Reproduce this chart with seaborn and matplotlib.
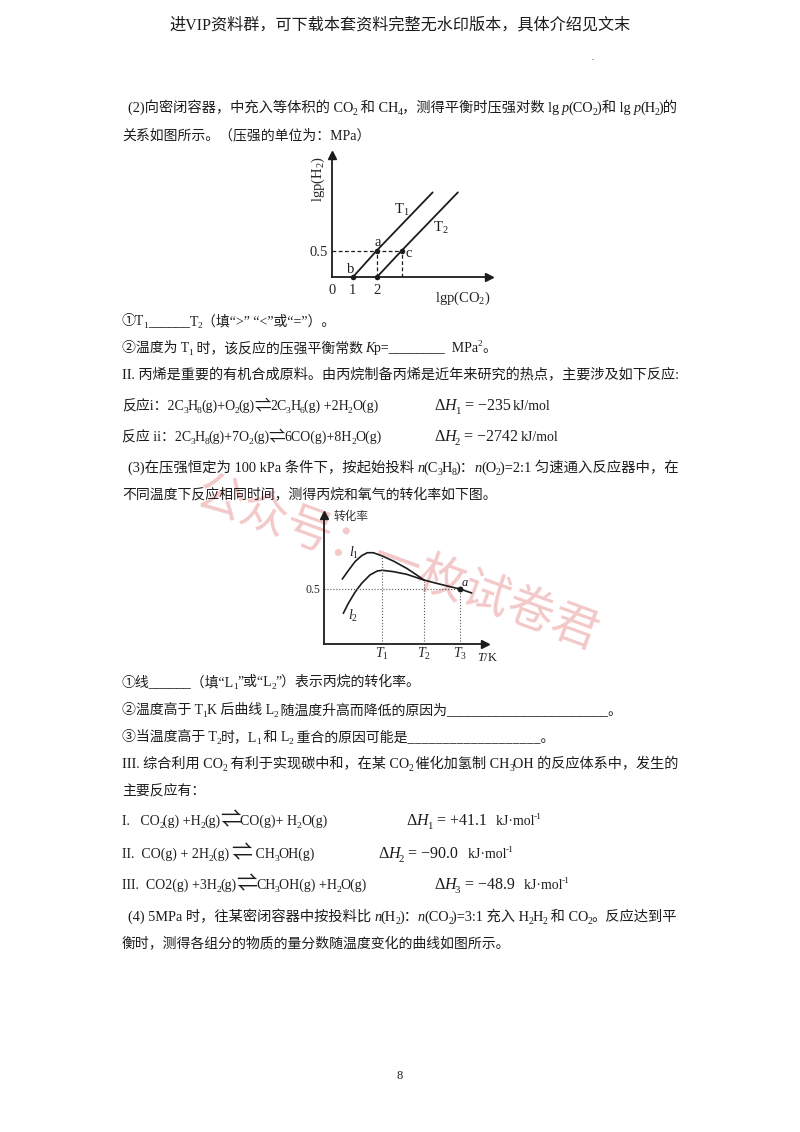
from __future__ import annotations

import re

import matplotlib
import matplotlib.pyplot as plt
import pandas as pd
import seaborn as sns

matplotlib.use("Agg")

# first chart: lgp(H2) against lgp(CO2)
t1_x = [1.0, 2.0, 4.33]
t1_y = [0.0, 0.5, 1.59]
t2_x = [2.0, 3.04, 5.38]
t2_y = [0.0, 0.5, 1.59]
point_x = [1.0, 2.0, 2.0, 3.04]
point_y = [0.0, 0.5, 0.0, 0.5]
chart1_xticks = [0.125, 1, 2]
chart1_xlabels = ["0", "1", "2"]

# second chart: conversion against temperature
l1_x = [0.04, 0.184, 0.344, 0.504, 0.64, 0.784, 1.0, 1.264, 1.584, 1.824, 2.0]
l1_y = [0.59, 0.666, 0.747, 0.801, 0.828, 0.828, 0.798, 0.753, 0.687, 0.627, 0.581]
l2_x = [0.064, 0.184, 0.344, 0.504, 0.704, 0.88, 1.0, 1.264, 1.584, 2.0]
l2_y = [0.28, 0.37, 0.47, 0.551, 0.627, 0.663, 0.669, 0.657, 0.633, 0.581]
shared_x = [2.0, 2.304, 2.624, 2.864, 3.144]
shared_y = [0.581, 0.551, 0.521, 0.5, 0.464]
temp_ticks = [1.0, 2.0, 2.864]
temp_labels = ["$T_1$", "$T_2$", "$T_3$"]
temp_tops = [0.798, 0.581, 0.5]

INK = "#1c1c1c"
W, H = 800, 1132
LEFT, RIGHT = 122, 678

sns.set_theme(style="white")
plt.rcParams["font.family"] = ["Liberation Serif", "Noto Sans CJK SC", "DejaVu Sans"]
plt.rcParams["mathtext.fontset"] = "custom"
plt.rcParams["mathtext.rm"] = "Liberation Serif"
plt.rcParams["mathtext.it"] = "Liberation Serif:italic"
plt.rcParams["text.color"] = INK

fig = plt.figure(figsize=(8, 11.32), dpi=100, facecolor="white")
renderer = fig.canvas.get_renderer()

TOKEN = re.compile(r"_\{(.*?)\}|\^\{(.*?)\}|\*(.*?)\*|(\[=+\])")


def split_runs(line):
    runs = []
    pos = 0
    for m in TOKEN.finditer(line):
        if m.start() > pos:
            runs.append((line[pos:m.start()], "plain"))
        if m.group(1) is not None:
            runs.append((m.group(1), "sub"))
        elif m.group(2) is not None:
            runs.append((m.group(2), "sup"))
        elif m.group(3) is not None:
            runs.append((m.group(3), "ital"))
        elif m.group(4) == "[=]":
            runs.append(("⇌", "arrow"))
        else:
            runs.append(("⇌", "long_arrow"))
        pos = m.end()
    if pos < len(line):
        runs.append((line[pos:], "plain"))
    return runs


def put_runs(runs, x, y, size):
    for txt, kind in runs:
        scale = {"sub": 0.68, "sup": 0.68, "arrow": 1.2, "long_arrow": 1.5}.get(kind, 1.0)
        shift = {"sub": 0.22, "sup": -0.42, "arrow": 0.05, "long_arrow": 0.1}.get(kind, 0) * size * 1.39
        t = fig.text(
            x / W, 1 - (y + shift) / H, txt,
            fontsize=size * scale, va="baseline", ha="left",
            fontstyle="italic" if kind == "ital" else "normal",
        )
        # extents come back a little wider than the advance
        x += t.get_window_extent(renderer).width - 0.6
        yield t
    yield x


def write(line, x, y, size=10.0, end=None):
    # y is the baseline in pixels from the top
    runs = split_runs(line)
    if end is not None:
        parts = list(put_runs(runs, x, y, size))
        stop = parts.pop()
        for t in parts:
            t.remove()
        size *= (end - x) / (stop - x)
    return list(put_runs(runs, x, y, size))[-1]


def delta(name, value, unit, x, y):
    # reaction enthalpy, set larger than the body text
    x = write(f"Δ*H*_{{{name}}}", x, y, size=11.5)
    x = write(f" = {value}", x + 1, y, size=11.5)
    write(unit, x + 3, y, size=10)


# watermark goes under everything else
fig.text(397 / W, 1 - 565 / H, "公众号：一枚试卷君", fontsize=34, color="#f3c8c8",
         rotation=-20, ha="center", va="center", rotation_mode="anchor", zorder=-1)

fig.text(400 / W, 1 - 25 / H, "进VIP资料群，可下载本套资料完整无水印版本，具体介绍见文末",
         fontsize=11.6, ha="center", va="center")
fig.text(593 / W, 1 - 60 / H, ".", fontsize=6, ha="center")

write("(2)向密闭容器，中充入等体积的 CO_{2} 和 CH_{4}，测得平衡时压强对数 lg *p*(CO_{2})和 lg *p*(H_{2})的", 128, 112, end=RIGHT)
write("关系如图所示。（压强的单位为：MPa）", LEFT, 139)
write("①T_{1}______T_{2}（填“>” “<”或“=”）。", LEFT, 325)
write("②温度为 T_{1} 时，该反应的压强平衡常数 *K*p=________  MPa^{2}。", LEFT, 352)
write("II. 丙烯是重要的有机合成原料。由丙烷制备丙烯是近年来研究的热点，主要涉及如下反应:", LEFT, 379, end=RIGHT)
write("反应i：2C_{3}H_{8}(g)+O_{2}(g)[=]2C_{3}H_{6}(g) +2H_{2}O(g)", LEFT, 410)
delta("1", "−235", "kJ/mol", 434, 410)
write("反应 ii：2C_{3}H_{8}(g)+7O_{2}(g)[=]6CO(g)+8H_{2}O(g)", LEFT, 441)
delta("2", "−2742", "kJ/mol", 434, 441)
write("(3)在压强恒定为 100 kPa 条件下，按起始投料 *n*(C_{3}H_{8})：*n*(O_{2})=2:1 匀速通入反应器中，在", 128, 472, end=RIGHT)
write("不同温度下反应相同时间，测得丙烷和氧气的转化率如下图。", LEFT, 499)
write("①线______（填“L_{1}”或“L_{2}”）表示丙烷的转化率。", LEFT, 686)
write("②温度高于 T_{1}K 后曲线 L_{2} 随温度升高而降低的原因为_______________________。", LEFT, 714)
write("③当温度高于 T_{2}时，L_{1} 和 L_{2} 重合的原因可能是___________________。", LEFT, 741)
write("III. 综合利用 CO_{2} 有利于实现碳中和，在某 CO_{2} 催化加氢制 CH_{3}OH 的反应体系中，发生的", LEFT, 768, end=RIGHT)
write("主要反应有：", LEFT, 795)
write("I.   CO_{2}(g) +H_{2}(g)[==]CO(g)+ H_{2}O(g)", LEFT, 825)
delta("1", "+41.1", "  kJ·mol^{-1}", 406, 825)
write("II.  CO(g) + 2H_{2}(g) [==] CH_{3}OH(g)", LEFT, 858)
delta("2", "−90.0", "  kJ·mol^{-1}", 378, 858)
write("III.  CO2(g) +3H_{2}(g)[==]CH_{3}OH(g) +H_{2}O(g)", LEFT, 889)
delta("3", "−48.9", "  kJ·mol^{-1}", 434, 889)
write("(4) 5MPa 时，往某密闭容器中按投料比 *n*(H_{2})：*n*(CO_{2})=3:1 充入 H_{2}H_{2} 和 CO_{2}。反应达到平", 128, 921, end=RIGHT)
write("衡时，测得各组分的物质的量分数随温度变化的曲线如图所示。", LEFT, 948)
fig.text(400 / W, 1 - 1076 / H, "8", fontsize=9, ha="center", va="center")


def page_axes(left, top, right, bottom):
    ax = fig.add_axes([left / W, 1 - bottom / H, (right - left) / W, (bottom - top) / H])
    ax.patch.set_alpha(0)
    sns.despine(ax=ax)
    for side in ("left", "bottom"):
        ax.spines[side].set_linewidth(1.3)
        ax.spines[side].set_color(INK)
    ax.plot(1, 0, ">", color=INK, ms=6, transform=ax.transAxes, clip_on=False)
    ax.plot(0, 1, "^", color=INK, ms=6, transform=ax.transAxes, clip_on=False)
    ax.tick_params(length=0, pad=3)
    return ax


# chart 1
ax1 = page_axes(331.7, 155, 489.3, 277.3)
for xs, ys in ((t1_x, t1_y), (t2_x, t2_y)):
    sns.lineplot(data=pd.DataFrame({"x": xs, "y": ys}), x="x", y="y", ax=ax1,
                 color=INK, lw=1.3, sort=False, estimator=None)
sns.scatterplot(x=point_x, y=point_y, ax=ax1, color=INK, s=16, linewidth=0, clip_on=False, zorder=5)
ax1.plot([0.125, 3.04], [0.5, 0.5], color=INK, lw=0.9, ls=(0, (3, 2)))
ax1.plot([2, 2], [0, 0.5], color=INK, lw=0.9, ls=(0, (3, 2)))
ax1.plot([3.04, 3.04], [0, 0.5], color=INK, lw=0.9, ls=(0, (3, 2)))
ax1.set_xlim(0.125, 6.69)
ax1.set_ylim(0, 2.29)
ax1.set_xticks(chart1_xticks, chart1_xlabels, fontsize=10.5)
ax1.set_yticks([0.5], ["0.5"], fontsize=10.5)
ax1.tick_params(axis="x", pad=5)
ax1.set_xlabel("lgp(CO$_2$)", fontsize=10.5)
ax1.xaxis.set_label_coords(0.83, -0.1)
ax1.set_ylabel("lgp(H$_2$)", fontsize=10.5)
ax1.yaxis.set_label_coords(-0.03, 0.8)
ax1.text(2.7, 1.18, "T$_1$", fontsize=10.5)
ax1.text(4.35, 0.85, "T$_2$", fontsize=10.5)
ax1.text(1.9, 0.58, "a", fontsize=10.5)
ax1.text(3.2, 0.38, "c", fontsize=10.5)
ax1.text(0.78, 0.08, "b", fontsize=10.5)

# chart 2
ax2 = page_axes(324.3, 515, 485, 644.3)
for xs, ys in ((l1_x, l1_y), (l2_x, l2_y), (shared_x, shared_y)):
    sns.lineplot(x=xs, y=ys, ax=ax2, color=INK, lw=1.2, sort=False, estimator=None)
sns.scatterplot(x=[shared_x[3]], y=[shared_y[3]], ax=ax2, color=INK, s=18, linewidth=0, zorder=5)
ax2.plot([-0.392, shared_x[3]], [0.5, 0.5], color="#555555", lw=0.8, ls=":")
for tick, top in zip(temp_ticks, temp_tops):
    ax2.plot([tick, tick], [0, top], color="#555555", lw=0.8, ls=":")
ax2.set_xlim(-0.392, 3.464)
ax2.set_ylim(0, 1.169)
ax2.set_xticks(temp_ticks, temp_labels, fontsize=10)
ax2.set_yticks([0.5], ["0.5"], fontsize=8.5)
ax2.tick_params(axis="x", pad=1)
ax2.text(3.27, -0.15, "$T$/K", fontsize=9, ha="left")
ax2.text(-0.176, 1.15, "转化率", fontsize=8.4, ha="left", va="center", color="#333333")
ax2.text(0.21, 0.79, "$l_1$", fontsize=10)
ax2.text(0.18, 0.22, "$l_2$", fontsize=10)
ax2.text(2.88, 0.53, "$a$", fontsize=9)

fig.savefig("out.png", dpi=100)
